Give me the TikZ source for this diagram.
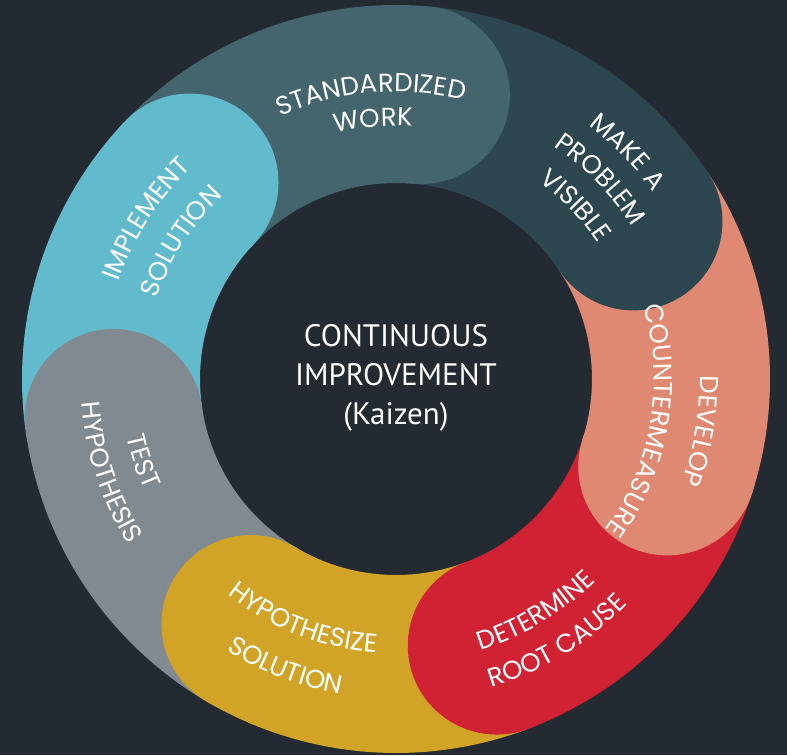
\documentclass[tikz,border=0pt]{standalone}
\usepackage{fontspec}
\newfontfamily\lblfont{Poppins}
\newfontfamily\ctrfont{PT Sans}
\usetikzlibrary{calc,decorations.text}
\definecolor{bg}{HTML}{242A32}
\definecolor{cStd}{HTML}{45656E}
\definecolor{cMake}{HTML}{2D4750}
\definecolor{cDev}{HTML}{E08972}
\definecolor{cDet}{HTML}{D02232}
\definecolor{cHyp}{HTML}{D1A427}
\definecolor{cTest}{HTML}{818A90}
\definecolor{cImp}{HTML}{62BBCD}
\newcommand\cwlabel[3]{%
  \pgfmathsetmacro\lA{#1+70}\pgfmathsetmacro\lB{#1-70}%
  \path[decorate,decoration={text along path,text align=center,text color=white,
    text={|\lblfont\fontsize{26}{26}\selectfont|#3}}]
    ($(O)+(\lA:#2)$) arc[start angle=\lA,end angle=\lB,radius=#2];}
\newcommand\ccwlabel[3]{%
  \pgfmathsetmacro\lA{#1-70}\pgfmathsetmacro\lB{#1+70}%
  \path[decorate,decoration={text along path,text align=center,text color=white,
    text={|\lblfont\fontsize{26}{26}\selectfont|#3}}]
    ($(O)+(\lA:#2)$) arc[start angle=\lA,end angle=\lB,radius=#2];}
\begin{document}
\begin{tikzpicture}[x=1pt,y=1pt]
\useasboundingbox (0,0) rectangle (787,755);
\fill[bg] (0,0) rectangle (787,755);
\coordinate (O) at (396,376);
% ring bodies
\foreach \e/\c in {85/cStd,33.571/cMake,-17.857/cDev,-69.286/cDet,-120.714/cHyp,-172.143/cTest,-223.571/cImp}{
  \pgfmathsetmacro\s{\e+51.429}
  \draw[line width=178pt,\c] ($(O)+(\s:285)$) arc[start angle=\s,end angle=\e,radius=285];
}
% rounded ends
\foreach \e/\c in {85/cStd,33.571/cMake,-17.857/cDev,-69.286/cDet,-120.714/cHyp,-172.143/cTest,-223.571/cImp}{
  \fill[\c] ($(O)+(\e:285)$) circle[radius=89];
}
% labels
\cwlabel{95}{287}{STANDARDIZED}
\cwlabel{95}{253}{WORK}
\cwlabel{44.4}{318}{MAKE A}
\cwlabel{44.3}{281}{PROBLEM}
\cwlabel{44}{243}{VISIBLE}
\cwlabel{-9.7}{304}{DEVELOP}
\cwlabel{-9.7}{258}{COUNTERMEASURE}
\ccwlabel{-59}{284}{DETERMINE}
\ccwlabel{-58.5}{323}{ROOT CAUSE}
\ccwlabel{-111}{274}{HYPOTHESIZE}
\ccwlabel{-111}{320}{SOLUTION}
\ccwlabel{-162}{275}{TEST}
\ccwlabel{-162}{315}{HYPOTHESIS}
\cwlabel{147.3}{294}{IMPLEMENT}
\cwlabel{147.4}{252}{SOLUTION}
% centre
\node[text=white,font=\ctrfont\fontsize{31}{39}\selectfont,align=center] (ctr) at (396,377)
  {CONTINUOUS\\IMPROVEMENT\\(Kaizen)};
\end{tikzpicture}
\end{document}
